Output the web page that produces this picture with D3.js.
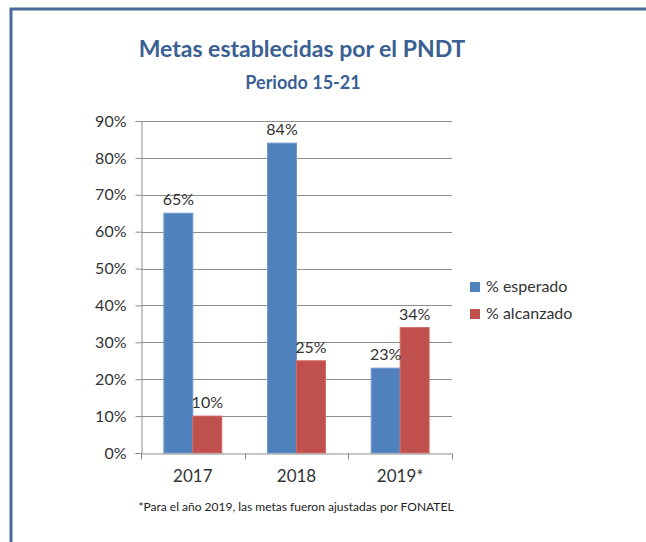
<!DOCTYPE html>
<html>
<head>
<meta charset="utf-8">
<script src="https://cdn.jsdelivr.net/npm/d3@7"></script>
<style>
  body { margin: 0; background: #fff; }
  svg { display: block; }
  text { font-family: Lato, "Open Sans", sans-serif; }
</style>
</head>
<body>
<svg id="chart" width="646" height="542"></svg>
<script>
// data
var years = ["2017", "2018", "2019*"];
var seriesNames = ["% esperado", "% alcanzado"];
var esperado = [0.65, 0.84, 0.23];
var alcanzado = [0.10, 0.25, 0.34];
var yTicks = [0, 0.1, 0.2, 0.3, 0.4, 0.5, 0.6, 0.7, 0.8, 0.9];
var colors = ["#4f81bd", "#c0504d"];
var borders = ["#6f98cc", "#d26a67"];

var svg = d3.select("#chart");
var width = 646, height = 542;

// frame (only top and left edges show in the shot)
svg.append("path")
  .attr("d", "M11," + height + " V9 H" + width)
  .attr("fill", "none")
  .attr("stroke", "#4a6a9c")
  .attr("stroke-width", 3);

// titles
svg.append("text")
  .attr("x", 302).attr("y", 57)
  .attr("text-anchor", "middle")
  .style("font-size", "23px").style("font-weight", "bold")
  .attr("fill", "#3a5f92")
  .text("Metas establecidas por el PNDT");

svg.append("text")
  .attr("x", 303).attr("y", 89)
  .attr("text-anchor", "middle")
  .style("font-size", "18px").style("font-weight", "bold")
  .attr("fill", "#3a5f92")
  .text("Periodo 15-21");

var x0 = d3.scaleBand().domain(years).range([141, 452]);
var x1 = d3.scaleBand().domain(seriesNames).range([0, x0.bandwidth()]).paddingOuter(0.79);
var y = d3.scaleLinear().domain([0, 0.9]).range([453, 121]);

// grid
svg.append("g").selectAll("line").data(yTicks.slice(1)).join("line")
  .attr("x1", 141).attr("x2", 452)
  .attr("y1", function(d) { return Math.round(y(d)) + 0.5; })
  .attr("y2", function(d) { return Math.round(y(d)) + 0.5; })
  .attr("stroke", "#8e8e8e");

// bars
var rows = years.map(function(yr, i) {
  return { year: yr, vals: [esperado[i], alcanzado[i]] };
});

var groups = svg.append("g").selectAll("g").data(rows).join("g")
  .attr("transform", function(d) { return "translate(" + x0(d.year) + ",0)"; });

groups.selectAll("rect")
  .data(function(d) { return d.vals.map(function(v, j) { return { s: seriesNames[j], v: v, j: j }; }); })
  .join("rect")
  .attr("x", function(d) { return x1(d.s); })
  .attr("width", x1.bandwidth())
  .attr("y", function(d) { return y(d.v); })
  .attr("height", function(d) { return y(0) - y(d.v); })
  .attr("fill", function(d) { return colors[d.j]; })
  .attr("stroke", function(d) { return borders[d.j]; })
  .attr("stroke-width", 1);

groups.selectAll("text.val")
  .data(function(d) { return d.vals.map(function(v, j) { return { s: seriesNames[j], v: v }; }); })
  .join("text")
  .attr("class", "val")
  .attr("x", function(d) { return x1(d.s) + x1.bandwidth() / 2; })
  .attr("y", function(d) { return y(d.v) - 8; })
  .attr("text-anchor", "middle")
  .style("font-size", "16px")
  .attr("fill", "#333")
  .text(function(d) { return d3.format(".0%")(d.v); });

// axes
var yAxis = d3.axisLeft(y).tickValues(yTicks).tickFormat(d3.format(".0%")).tickSize(6).tickPadding(9);
var gy = svg.append("g").attr("transform", "translate(141.5,0)").call(yAxis);
gy.select(".domain").attr("stroke", "#8e8e8e");
gy.selectAll(".tick line").attr("stroke", "#8e8e8e");
gy.selectAll(".tick text").style("font-size", "16px").attr("fill", "#333")
  .style("font-family", "Lato, sans-serif");

var xAxis = d3.axisBottom(x0).tickSize(0).tickPadding(16);
var gx = svg.append("g").attr("transform", "translate(0,453.5)").call(xAxis);
gx.select(".domain").attr("stroke", "#8e8e8e");
gx.selectAll(".tick text").style("font-size", "17px").attr("fill", "#333")
  .style("font-family", "Lato, sans-serif");
// category separators below axis
var seps = years.map(function(d) { return x0(d); }).concat([x0.range()[1]]);
gx.selectAll("line.sep").data(seps).join("line")
  .attr("class", "sep")
  .attr("x1", function(d) { return Math.round(d) + 0.5; })
  .attr("x2", function(d) { return Math.round(d) + 0.5; })
  .attr("y1", 0).attr("y2", 6)
  .attr("stroke", "#8e8e8e");

// legend
var legend = svg.append("g").selectAll("g").data(seriesNames).join("g")
  .attr("transform", function(d, i) { return "translate(470," + (282 + i * 27) + ")"; });
legend.append("rect")
  .attr("width", 10).attr("height", 10)
  .attr("fill", function(d, i) { return colors[i]; });
legend.append("text")
  .attr("x", 16).attr("y", 10)
  .style("font-size", "16px")
  .attr("fill", "#333")
  .text(function(d) { return d; });

// footnote
svg.append("text")
  .attr("x", 296).attr("y", 511)
  .attr("text-anchor", "middle")
  .style("font-size", "12px")
  .attr("fill", "#222")
  .text("*Para el año 2019, las metas fueron ajustadas  por FONATEL");
</script>
</body>
</html>
